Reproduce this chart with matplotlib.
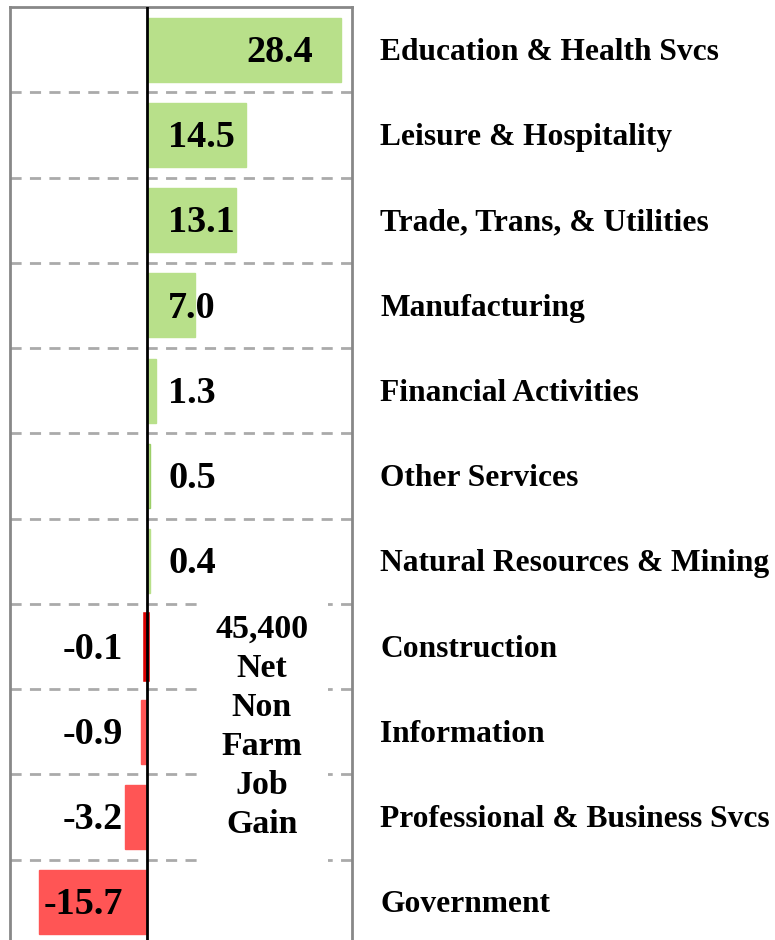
import matplotlib
matplotlib.use("Agg")
import matplotlib.pyplot as plt
from matplotlib.patches import Rectangle

categories = ["Education & Health Svcs", "Leisure & Hospitality", "Trade, Trans, & Utilities",
              "Manufacturing", "Financial Activities", "Other Services",
              "Natural Resources & Mining", "Construction", "Information",
              "Professional & Business Svcs", "Government"]
values = [28.4, 14.5, 13.1, 7.0, 1.3, 0.5, 0.4, -0.1, -0.9, -3.2, -15.7]
labels = ["28.4", "14.5", "13.1", "7.0", "1.3", "0.5", "0.4", "-0.1", "-0.9", "-3.2", "-15.7"]
note = "45,400\nNet\nNon\nFarm\nJob\nGain"

GREEN = "#b8e08a"
RED = "#ff5555"
SERIF = ["Liberation Serif", "DejaVu Serif"]

fig = plt.figure(figsize=(7.75, 9.4), dpi=100)
ax = fig.add_axes([10/775, 1-945/940, 342/775, 938/940])

n = len(values)
ys = list(range(n))
colors = [GREEN if v >= 0 else RED for v in values]
edges = ["#dd0000" if v == -0.1 else ("#9ccf68" if v == 0.5 else c) for v, c in zip(values, colors)]
widths = [4 if v == -0.1 else 1 for v in values]
ax.barh(ys, values, height=0.75, color=colors, edgecolor=edges, linewidth=widths, zorder=2)

ax.set_xlim(-20, 30)
ax.set_ylim(n - 0.5, -0.5)

for b in range(n - 1):
    ax.axhline(b + 0.5, color="#aaaaaa", lw=2, dashes=(4, 3), zorder=1)

ax.axvline(0, color="black", lw=2, zorder=3)

VAL_FS = 27.5
DY = 0.03
for y, v, lab in zip(ys, values, labels):
    if v > 20:
        ax.text(v - 4.1, y + DY, lab, ha="right", va="center", fontsize=VAL_FS, fontweight="bold", family=SERIF, zorder=4)
    elif v >= 0:
        ax.text(3.1, y + DY, lab, ha="left", va="center", fontsize=VAL_FS, fontweight="bold", family=SERIF, zorder=4)
    else:
        ax.text(-3.5, y + DY, lab, ha="right", va="center", fontsize=VAL_FS, fontweight="bold", family=SERIF, zorder=4)

ax.add_patch(Rectangle((7.8, 6.45), 18.7, 3.1, facecolor="white", edgecolor="none", zorder=1.5))
ax.text(16.8, 7.94, note, ha="center", va="center", multialignment="center", fontsize=24.4,
        fontweight="bold", family=SERIF, linespacing=1.33, zorder=4)

for y, c in zip(ys, categories):
    ax.text(1.082, y + DY, c, transform=ax.get_yaxis_transform(), ha="left", va="center",
            fontsize=22.7, fontweight="bold", family=SERIF)

ax.set_xticks([])
ax.set_yticks([])
for s in ["left", "right", "top"]:
    ax.spines[s].set_color("#888888")
    ax.spines[s].set_linewidth(2)
ax.spines["bottom"].set_visible(False)

fig.savefig("out.png", dpi=100)
